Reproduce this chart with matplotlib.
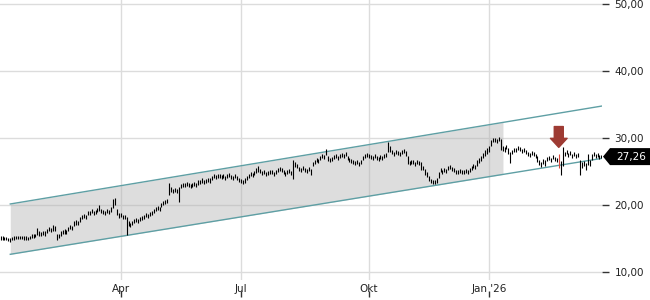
import numpy as np
import matplotlib
matplotlib.use('Agg')
import matplotlib.pyplot as plt
from matplotlib.patches import Polygon
from matplotlib.transforms import IdentityTransform

# ---- data ----
highs = [
    15.4,15.4,15.3,15.3,15.2,15.1,15.3,15.5,15.5,15.5,
    15.5,15.5,15.4,15.4,15.3,15.5,15.7,15.8,15.8,16.6,
    16.1,16.0,16.2,16.1,16.5,16.7,16.6,17.0,16.9,15.7,
    15.8,16.1,16.3,16.4,16.3,16.8,17.0,16.9,17.6,17.8,
    17.7,18.2,18.5,18.7,18.6,19.1,19.2,19.4,19.2,19.3,
    19.6,20.0,19.5,19.3,19.2,19.4,19.3,19.8,20.9,21.1,
    19.5,18.8,18.9,18.6,18.5,18.2,17.7,17.3,17.7,17.9,
    18.1,18.0,18.3,18.4,18.6,18.8,18.7,19.0,19.2,19.5,
    19.7,19.9,19.8,20.3,20.6,20.8,21.0,23.3,22.7,22.4,
    22.6,22.5,22.8,23.2,23.4,23.3,23.5,23.4,23.2,23.3,
    23.5,23.4,23.7,23.8,24.0,23.8,23.9,24.1,24.0,24.3,
    24.6,24.5,24.7,24.6,24.5,24.7,24.4,24.6,24.8,24.5,
    24.3,24.6,24.4,24.1,23.9,23.8,24.0,24.4,24.7,24.9,
    24.8,25.1,25.6,25.8,25.4,25.1,25.2,25.0,25.1,25.3,
    25.2,25.0,25.2,25.5,25.7,25.6,25.3,24.9,25.2,25.4,
    25.1,26.8,26.5,26.1,25.7,25.5,25.8,25.6,25.4,25.7,
    25.4,26.5,26.8,27.0,26.9,27.3,27.6,27.5,28.4,27.4,
    27.0,27.2,27.5,27.7,27.4,27.6,27.8,27.7,27.9,27.3,
    27.1,26.9,26.8,26.6,26.7,26.5,26.7,27.3,27.6,27.8,
    27.7,27.5,27.3,27.6,27.4,27.2,27.5,27.3,27.6,27.8,
    29.4,28.8,28.2,28.0,28.3,28.1,27.9,28.2,28.4,28.1,
    27.3,26.6,26.8,26.7,26.5,26.8,26.6,26.4,25.9,25.4,
    25.0,24.4,23.9,23.7,23.8,24.0,25.0,25.5,25.3,25.6,
    25.4,25.8,26.0,25.7,25.5,25.3,25.2,25.4,25.2,25.3,
    25.4,25.3,25.5,25.9,26.1,26.0,26.7,27.1,27.4,27.8,
    28.2,28.5,28.9,29.7,30.0,30.1,29.9,30.2,29.9,28.9,
    28.7,29.0,28.5,28.0,28.3,28.6,28.5,28.8,28.7,28.4,
    28.6,28.2,28.0,27.8,28.1,27.9,27.7,27.3,26.8,26.5,
    26.9,26.7,27.2,27.4,27.1,27.5,27.2,27.0,27.6,26.6,
    28.7,28.0,28.2,27.8,28.1,27.7,27.9,27.6,27.8,26.7,
    26.4,26.6,26.3,27.6,26.8,27.6,27.9,27.6,27.8,27.5,27.5,
]
lows = [
    14.9,14.9,14.8,14.8,14.7,14.5,14.8,14.9,15.0,15.0,
    15.0,15.0,14.9,14.9,14.8,15.0,15.1,15.2,15.3,15.6,
    15.5,15.4,15.6,15.5,15.9,16.1,16.0,16.2,16.1,14.8,
    15.2,15.5,15.7,15.8,15.7,16.2,16.4,16.3,16.9,17.1,
    17.1,17.5,17.9,18.1,18.0,18.5,18.6,18.8,18.6,18.7,
    19.0,19.2,18.9,18.7,18.6,18.8,18.7,19.0,19.6,20.0,
    18.6,18.1,18.3,18.0,17.9,15.6,16.9,16.7,17.1,17.3,
    17.5,17.4,17.7,17.8,18.0,18.2,18.1,18.4,18.6,18.9,
    19.1,19.3,19.2,19.7,20.0,20.2,20.4,21.5,22.0,21.8,
    22.0,21.9,20.5,22.6,22.8,22.7,22.9,22.8,22.6,22.7,
    22.9,22.8,23.1,23.2,23.4,23.2,23.3,23.5,23.4,23.7,
    24.0,23.9,24.1,24.0,23.9,24.1,23.8,24.0,24.2,23.9,
    23.7,24.0,23.8,23.5,23.3,23.2,23.4,23.8,24.1,24.3,
    24.2,24.5,24.8,25.0,24.8,24.5,24.6,24.4,24.5,24.7,
    24.6,24.4,24.6,24.9,25.1,25.0,24.7,24.3,24.6,24.8,
    24.5,23.9,25.7,25.5,25.1,24.9,25.2,25.0,24.8,25.1,
    24.5,25.9,26.2,26.4,26.3,26.7,27.0,26.9,27.5,26.6,
    26.4,26.6,26.9,27.1,26.8,27.0,27.2,27.1,27.3,26.7,
    26.5,26.3,26.2,26.0,26.1,25.9,26.1,26.7,27.0,27.2,
    27.1,26.9,26.7,27.0,26.8,26.6,26.9,26.7,27.0,27.2,
    28.0,27.9,27.6,27.4,27.7,27.5,27.3,27.6,27.8,27.4,
    26.2,26.0,26.2,26.1,25.9,26.2,26.0,25.3,25.2,24.5,
    24.2,23.6,23.3,23.2,23.2,23.4,24.1,24.9,24.7,25.0,
    24.8,25.2,25.4,25.1,24.9,24.7,24.6,24.8,24.6,24.7,
    24.8,24.7,24.9,25.3,25.5,25.4,25.9,26.3,26.6,27.0,
    27.4,27.7,28.0,28.9,29.4,29.5,29.3,29.6,28.3,28.1,
    27.9,28.4,27.7,26.3,27.7,28.0,27.9,28.2,28.1,27.8,
    28.0,27.6,27.4,27.2,27.5,27.3,27.1,26.4,26.0,25.7,
    26.1,25.9,26.6,26.8,26.5,26.9,26.6,26.4,25.5,24.5,
    25.8,27.4,27.6,27.2,27.5,27.1,27.3,27.0,27.2,24.5,
    25.5,25.8,25.2,26.0,25.8,26.8,27.3,27.0,27.2,26.9,27.1,
]
last_close = 27.26
signal_idx = 288

tick_pos = [62, 124, 190, 252]
tick_labels = ['Apr', 'Jul', 'Okt', "Jan '26"]
y_ticks = [10, 20, 30, 40, 50]

channel_x = [5, 310.3]
channel_upper = [20.2, 34.8]
channel_lower = [12.7, 27.0]
shade_end = 259.2

# ---- figure ----
W, H = 650, 300
fig = plt.figure(figsize=(W / 100, H / 100), dpi=100)
ax = fig.add_axes([0, 20 / H, 602 / W, 280 / H])
ax.set_xlim(-0.3, 310.3)
ax.set_ylim(8.87, 50.6)

for s in ax.spines.values():
    s.set_visible(False)

ax.set_axisbelow(True)
ax.grid(True, color='#dcdcdc', linewidth=1)

# channel shading and lines
xs = np.array([channel_x[0], shade_end])
up = np.interp(xs, channel_x, channel_upper)
lo = np.interp(xs, channel_x, channel_lower)
ax.fill_between(xs, lo, up, color='#b0b0b0', alpha=0.42, linewidth=0, zorder=1)
ax.plot(channel_x, channel_upper, color='#5e9fa4', linewidth=1, zorder=2)
ax.plot(channel_x, channel_lower, color='#5e9fa4', linewidth=1, zorder=2)

# bars
x = np.arange(len(highs))
colors = ['#000000'] * len(highs)
colors[signal_idx] = '#d9483b'
ax.vlines(x, lows, highs, colors=colors, linewidth=0.8, zorder=3)

# signal arrow
ax.annotate('', xy=(signal_idx, highs[signal_idx]), xytext=(0, 20),
            textcoords='offset points', annotation_clip=False,
            arrowprops=dict(arrowstyle='simple,head_length=0.65,head_width=1.2,tail_width=0.65',
                            mutation_scale=10, color='#9e3b33', shrinkA=0, shrinkB=5),
            zorder=5)

# y axis right
ax.yaxis.tick_right()
ax.set_yticks(y_ticks)
ax.set_yticklabels([f"{v:.2f}".replace('.', ',') for v in y_ticks])
ax.tick_params(axis='y', length=5, width=1, color='#333333', pad=4,
               labelsize=7.5, labelcolor='#222222')

# x axis
ax.set_xticks(tick_pos)
ax.set_xticklabels(tick_labels)
ax.tick_params(axis='x', length=0, pad=3, labelsize=7.5, labelcolor='#222222')
sec = ax.secondary_xaxis(-17 / 280)
sec.set_xticks(tick_pos)
sec.set_xticklabels([])
sec.tick_params(direction='in', length=4, width=1, color='#333333')
for s in sec.spines.values():
    s.set_visible(False)

# price tag
yd = ax.transData.transform((0, last_close))[1]
xr = ax.transAxes.transform((1, 0))[0]
tag = Polygon([(xr + 1, yd), (xr + 8, yd + 8.5), (W, yd + 8.5), (W, yd - 8.5), (xr + 8, yd - 8.5)],
              closed=True, facecolor='black', edgecolor='none', transform=IdentityTransform())
fig.patches.append(tag)
fig.text(xr + 29, yd, f"{last_close:.2f}".replace('.', ','), color='white', fontsize=7.5,
         ha='center', va='center', transform=IdentityTransform())

fig.savefig('out.png', dpi=100)
